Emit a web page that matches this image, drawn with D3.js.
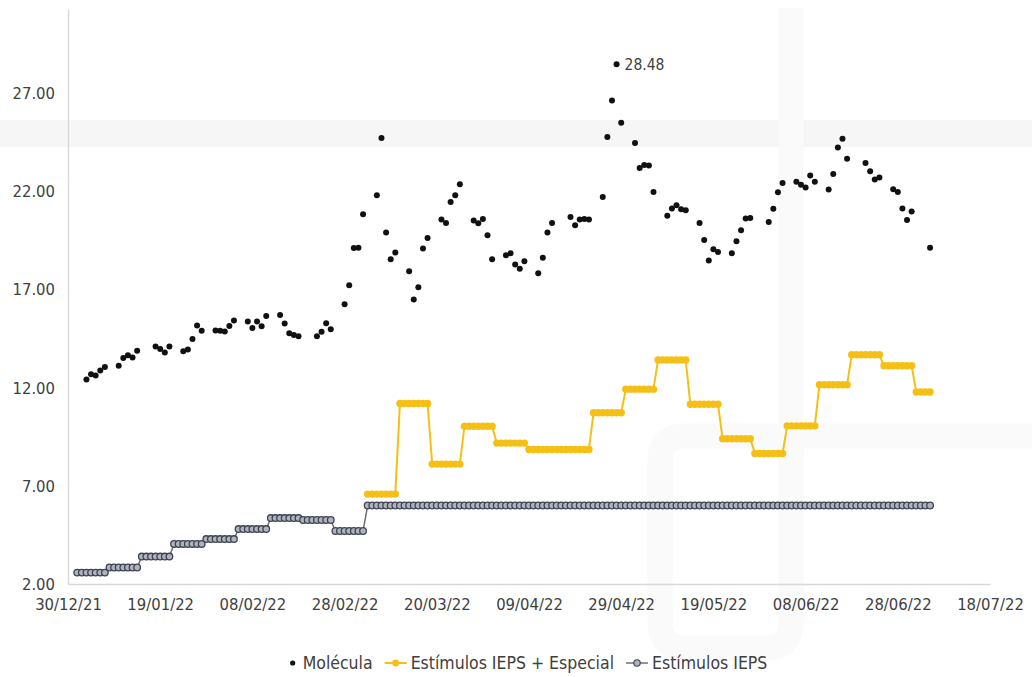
<!DOCTYPE html>
<html>
<head>
<meta charset="utf-8">
<script src="https://cdn.jsdelivr.net/npm/d3@7"></script>
<style>
  body { margin: 0; background: #fff; }
  text { font-family: "DejaVu Sans Condensed", "DejaVu Sans", sans-serif; font-stretch: condensed; fill: #404040; }
</style>
</head>
<body>
<div id="chart"></div>
<script>
// x axis ticks (every 20 days)
var xTickDates = ["2021-12-30", "2022-01-19", "2022-02-08", "2022-02-28", "2022-03-20", "2022-04-09",
                  "2022-04-29", "2022-05-19", "2022-06-08", "2022-06-28", "2022-07-18"];
var yTicks = [2, 7, 12, 17, 22, 27];

// Molécula: one row per week (Mon..Fri), null = no quote
var moleculaWeeks = ["2022-01-03", "2022-01-10", "2022-01-17", "2022-01-24", "2022-01-31", "2022-02-07",
                     "2022-02-14", "2022-02-21", "2022-02-28", "2022-03-07", "2022-03-14", "2022-03-21",
                     "2022-03-28", "2022-04-04", "2022-04-11", "2022-04-18", "2022-04-25", "2022-05-02",
                     "2022-05-09", "2022-05-16", "2022-05-23", "2022-05-30", "2022-06-06", "2022-06-13",
                     "2022-06-20", "2022-06-27", "2022-07-04"];
var moleculaValues = [
  [12.42, 12.69, 12.63, 12.88, 13.06],
  [13.12, 13.51, 13.66, 13.54, 13.88],
  [null, 14.10, 13.98, 13.80, 14.10],
  [13.86, 13.95, 14.49, 15.17, 14.90],
  [14.92, 14.90, 14.87, 15.15, 15.43],
  [15.38, 15.05, 15.38, 15.14, 15.65],
  [15.71, 15.27, 14.78, 14.69, 14.63],
  [null, 14.63, 14.85, 15.29, 14.98],
  [16.26, 17.22, 19.12, 19.14, 20.84],
  [21.81, 24.73, 19.91, 18.55, 18.89],
  [17.94, 16.50, 17.12, 19.09, 19.63],
  [20.58, 20.40, 21.47, 21.81, 22.37],
  [20.52, 20.38, 20.60, 19.77, 18.55],
  [18.75, 18.85, 18.28, 18.06, 18.45],
  [17.84, 18.63, 19.91, 20.40, null],
  [20.70, 20.28, 20.58, 20.60, 20.58],
  [21.72, 24.78, 26.64, 28.48, 25.51],
  [24.47, 23.20, 23.35, 23.33, 21.98],
  [20.77, 21.13, 21.30, 21.09, 21.04],
  [20.40, 19.53, 18.48, 19.06, 18.92],
  [18.85, 19.46, 20.02, 20.62, 20.65],
  [null, 20.45, 21.12, 21.96, 22.43],
  [22.50, 22.35, 22.20, 22.82, 22.50],
  [22.10, 22.89, 24.24, 24.69, 23.67],
  [null, 23.45, 23.03, 22.61, 22.71],
  [22.12, 21.98, 21.13, 20.55, 20.98],
  [null, 19.14]
];

// Estímulos IEPS: weekly values (weeks start on Saturday)
var iepsWeeks = ["2022-01-01", "2022-01-08", "2022-01-15", "2022-01-22", "2022-01-29", "2022-02-05",
                 "2022-02-12", "2022-02-19", "2022-02-26", "2022-03-05", "2022-03-12", "2022-03-19",
                 "2022-03-26", "2022-04-02", "2022-04-09", "2022-04-16", "2022-04-23", "2022-04-30",
                 "2022-05-07", "2022-05-14", "2022-05-21", "2022-05-28", "2022-06-04", "2022-06-11",
                 "2022-06-18", "2022-06-25", "2022-07-02"];
var iepsValues = [2.58, 2.84, 3.40, 4.04, 4.29, 4.80, 5.36, 5.26, 4.70, 6.00, 6.00, 6.00,
                  6.00, 6.00, 6.00, 6.00, 6.00, 6.00, 6.00, 6.00, 6.00, 6.00, 6.00, 6.00,
                  6.00, 6.00, 6.00];

// Estímulos IEPS + Especial
var especialWeeks = ["2022-03-05", "2022-03-12", "2022-03-19", "2022-03-26", "2022-04-02", "2022-04-09",
                     "2022-04-16", "2022-04-23", "2022-04-30", "2022-05-07", "2022-05-14", "2022-05-21",
                     "2022-05-28", "2022-06-04", "2022-06-11", "2022-06-18", "2022-06-25", "2022-07-02"];
var especialValues = [6.58, 11.20, 8.11, 10.04, 9.18, 8.85, 8.85, 10.73, 11.93, 13.42, 11.16, 9.40,
                      8.65, 10.06, 12.15, 13.68, 13.12, 11.78];

var lastDay = "2022-07-05";

var parse = d3.timeParse("%Y-%m-%d");
var width = 1032, height = 677;

// weekly value -> one point per day
function expandWeeks(starts, values, end) {
  var out = [];
  starts.forEach(function(s, i) {
    var from = parse(s);
    var to = i + 1 < starts.length ? parse(starts[i + 1]) : d3.timeDay.offset(parse(end), 1);
    d3.timeDay.range(from, to).forEach(function(d) { out.push({date: d, value: values[i]}); });
  });
  return out;
}

var ieps = expandWeeks(iepsWeeks, iepsValues, lastDay);
var especial = expandWeeks(especialWeeks, especialValues, lastDay);

var molecula = [];
moleculaWeeks.forEach(function(w, i) {
  moleculaValues[i].forEach(function(v, k) {
    if (v != null) molecula.push({date: d3.timeDay.offset(parse(w), k), value: v});
  });
});

var svg = d3.select("#chart").append("svg")
  .attr("width", width)
  .attr("height", height);

var x = d3.scaleTime()
  .domain([parse(xTickDates[0]), parse(xTickDates[xTickDates.length - 1])])
  .range([68, 990]);
var y = d3.scaleLinear()
  .domain([2, 31.3])
  .range([584, 9]);

// faint watermark in the background
var wm = svg.append("g");
wm.append("rect").attr("x", 0).attr("y", 120).attr("width", width).attr("height", 27).attr("fill", "#f6f6f6");
wm.append("path")
  .attr("d", "M1032,436 H684 Q660,436 660,460 V622 Q660,648 686,648 H766 Q791,648 791,622 V8")
  .attr("fill", "none").attr("stroke", "#fafafa").attr("stroke-width", 25);

// axes
svg.append("g")
  .attr("transform", "translate(0,584)")
  .call(d3.axisBottom(x).tickValues(xTickDates.map(parse)).tickFormat(d3.timeFormat("%d/%m/%y")).tickSize(0).tickPadding(14))
  .call(function(g) {
    g.select(".domain").attr("stroke", "#d9d9d9").attr("stroke-width", 1.5);
    g.selectAll("text").style("font-size", "16.5px").attr("fill", "#404040");
  });

svg.append("g")
  .attr("transform", "translate(68,0)")
  .call(d3.axisLeft(y).tickValues(yTicks).tickFormat(d3.format(".2f")).tickSize(0).tickPadding(13))
  .call(function(g) {
    g.select(".domain").attr("stroke", "#d9d9d9").attr("stroke-width", 1.5);
    g.selectAll("text").style("font-size", "16.5px").attr("fill", "#404040");
  });

var line = d3.line()
  .x(function(d) { return x(d.date); })
  .y(function(d) { return y(d.value); });

// Estímulos IEPS
svg.append("path").datum(ieps)
  .attr("d", line).attr("fill", "none").attr("stroke", "#6f6f6f").attr("stroke-width", 1.5);
svg.selectAll(".ieps").data(ieps).enter().append("circle")
  .attr("cx", function(d) { return x(d.date); })
  .attr("cy", function(d) { return y(d.value); })
  .attr("r", 3.3)
  .attr("fill", "#aeb3bf")
  .attr("stroke", "#3e4350")
  .attr("stroke-width", 1.3);

// Estímulos IEPS + Especial
svg.append("path").datum(especial)
  .attr("d", line).attr("fill", "none").attr("stroke", "#f5c016").attr("stroke-width", 2);
svg.selectAll(".esp").data(especial).enter().append("circle")
  .attr("cx", function(d) { return x(d.date); })
  .attr("cy", function(d) { return y(d.value); })
  .attr("r", 3.7)
  .attr("fill", "#f5c016");

// Molécula
svg.selectAll(".mol").data(molecula).enter().append("circle")
  .attr("cx", function(d) { return x(d.date); })
  .attr("cy", function(d) { return y(d.value); })
  .attr("r", 3)
  .attr("fill", "#111");

// label on the max point
var maxPoint = d3.greatest(molecula, function(d) { return d.value; });
svg.append("text")
  .attr("x", x(maxPoint.date) + 8)
  .attr("y", y(maxPoint.value) + 6)
  .style("font-size", "15.5px")
  .text(d3.format(".2f")(maxPoint.value));

// legend
var legend = svg.append("g").attr("transform", "translate(0,663)");
var items = [
  {name: "Molécula", type: "dot"},
  {name: "Estímulos IEPS + Especial", type: "yellow"},
  {name: "Estímulos IEPS", type: "gray"}
];
var lx = 0;
var groups = legend.selectAll("g").data(items).enter().append("g");
groups.each(function(d) {
  var g = d3.select(this);
  var sw = d.type === "dot" ? 10 : 22;
  if (d.type === "dot") {
    g.append("circle").attr("cx", 4).attr("cy", 0).attr("r", 2.6).attr("fill", "#111");
  } else if (d.type === "yellow") {
    g.append("line").attr("x1", 0).attr("x2", 22).attr("stroke", "#f5c016").attr("stroke-width", 2);
    g.append("circle").attr("cx", 11).attr("r", 3.4).attr("fill", "#f5c016");
  } else {
    g.append("line").attr("x1", 0).attr("x2", 22).attr("stroke", "#6f6f6f").attr("stroke-width", 1.5);
    g.append("circle").attr("cx", 11).attr("r", 3.2).attr("fill", "#aeb3bf").attr("stroke", "#3e4350").attr("stroke-width", 1.1);
  }
  var t = g.append("text").attr("x", sw + 4).attr("dy", "0.35em").style("font-size", "17.5px").text(d.name);
  g.attr("transform", "translate(" + lx + ",0)");
  lx += sw + 4 + t.node().getComputedTextLength() + 12;
});
legend.attr("transform", "translate(" + (528 - (lx - 12) / 2) + ",663)");
</script>
</body>
</html>
